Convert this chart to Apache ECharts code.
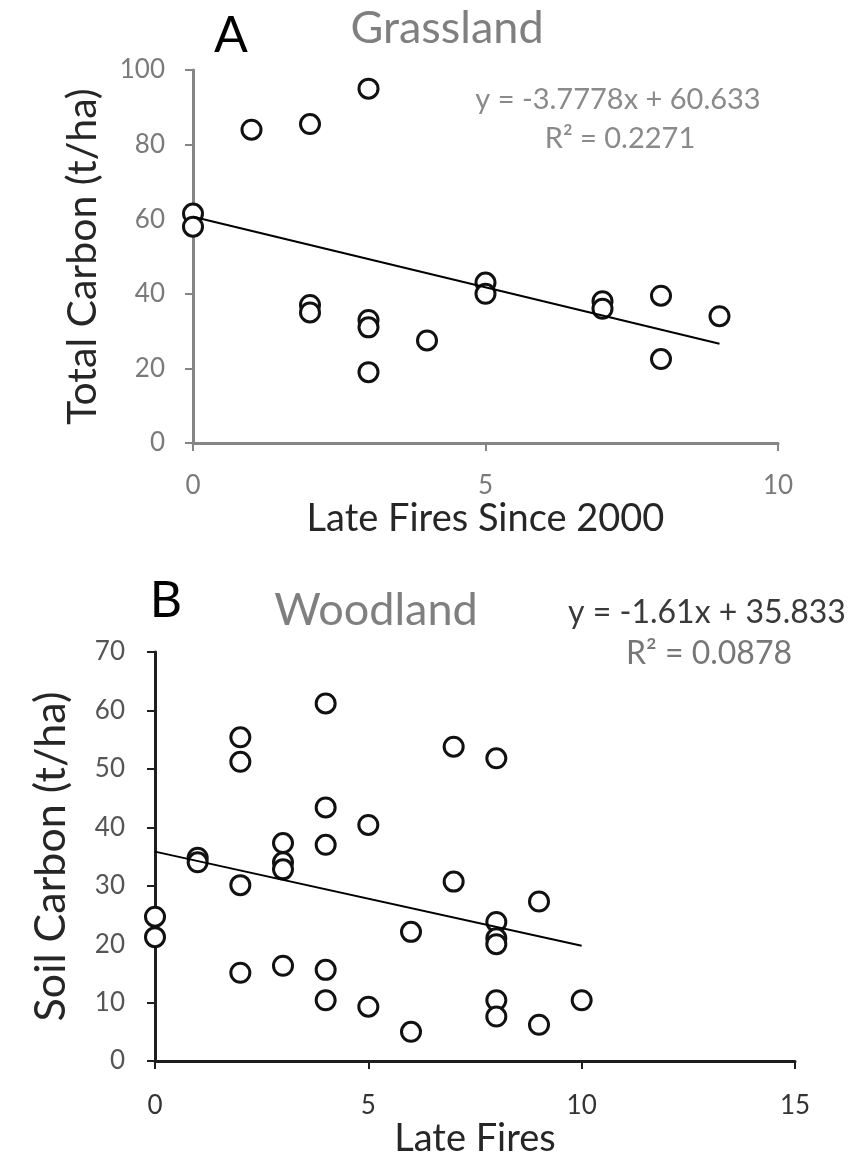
<!DOCTYPE html>
<html>
<head>
<meta charset="utf-8">
<script src="https://cdn.jsdelivr.net/npm/echarts@6/dist/echarts.min.js"></script>
<style>
  html, body { margin: 0; padding: 0; background: #fff; }
  #chart { width: 868px; height: 1157px; }
</style>
</head>
<body>
<div id="chart"></div>
<script>
// A - Grassland
var grassX = [0, 0, 1, 2, 2, 2, 3, 3, 3, 3, 4, 5, 5, 7, 7, 8, 8, 9];
var grassY = [61.5, 58, 84, 85.5, 37, 35, 95, 33, 31, 19, 27.5, 43, 40, 38, 36, 39.5, 22.5, 34];
var grassTrend = [[0, 60.633], [9, 26.633]];
var grassEq = ['y = -3.7778x + 60.633', 'R² = 0.2271'];

// B - Woodland
var woodX = [0, 0, 1, 1, 2, 2, 2, 2, 3, 3, 3, 3, 4, 4, 4, 4, 4, 5, 5, 6, 6, 7, 7, 8, 8, 8, 8, 8, 8, 9, 9, 10];
var woodY = [24.7, 21.2, 34.8, 34, 55.4, 51.2, 30.1, 15.1, 37.3, 34, 32.8, 16.3, 61.2, 43.4, 37, 15.6, 10.4, 40.4, 9.3, 22.1, 5, 53.8, 30.7, 51.8, 23.8, 21, 20, 10.4, 7.6, 27.3, 6.2, 10.4];
var woodTrend = [[0, 35.833], [10, 19.733]];
var woodEq = ['y = -1.61x + 35.833', 'R² = 0.0878'];

function pairs(xs, ys) {
    return xs.map(function (x, i) { return [x, ys[i]]; });
}

var font = 'Lato';
var myChart = echarts.init(document.getElementById('chart'));

function axisStyle(color) {
    return {
        axisLine: { show: true, onZero: false, lineStyle: { color: color, width: 3 } },
        axisTick: { show: true, inside: false, length: 8, lineStyle: { color: color, width: 2 } },
        splitLine: { show: false }
    };
}

var xA = Object.assign({
    type: 'value', gridIndex: 0, min: 0, max: 10, interval: 5,
    name: 'Late Fires Since 2000', nameLocation: 'middle', nameGap: 56,
    nameTextStyle: { fontFamily: font, fontSize: 38, color: '#262626' },
    axisLabel: { fontFamily: font, fontSize: 26, color: '#7a7a7a', margin: 30 }
}, axisStyle('#858585'));
var yA = Object.assign({
    type: 'value', gridIndex: 0, min: 0, max: 100, interval: 20,
    name: 'Total Carbon (t/ha)', nameLocation: 'middle', nameGap: 90,
    nameTextStyle: { fontFamily: font, fontSize: 41, color: '#262626' },
    axisLabel: { fontFamily: font, fontSize: 26, color: '#7a7a7a', margin: 28 }
}, axisStyle('#858585'));
var xB = Object.assign({
    type: 'value', gridIndex: 1, min: 0, max: 15, interval: 5,
    name: 'Late Fires', nameLocation: 'middle', nameGap: 56,
    nameTextStyle: { fontFamily: font, fontSize: 38, color: '#262626' },
    axisLabel: { fontFamily: font, fontSize: 26, color: '#333', margin: 32 }
}, axisStyle('#1e1e1e'));
var yB = Object.assign({
    type: 'value', gridIndex: 1, min: 0, max: 70, interval: 10,
    name: 'Soil Carbon (t/ha)', nameLocation: 'middle', nameGap: 82,
    nameTextStyle: { fontFamily: font, fontSize: 43, color: '#262626' },
    axisLabel: { fontFamily: font, fontSize: 26, color: '#555', margin: 30 }
}, axisStyle('#1e1e1e'));

var circle = {
    symbol: 'circle', symbolSize: 19,
    itemStyle: { color: '#fff', borderColor: '#111', borderWidth: 3, opacity: 1 }
};

function eqText(x, y, text, color, size) {
    return {
        type: 'text', x: x, y: y,
        style: { text: text, fontFamily: font, fontSize: size, fill: color, align: 'center', verticalAlign: 'middle' }
    };
}

myChart.setOption({
    backgroundColor: '#fff',
    animation: false,
    grid: [
        { left: 193, top: 70, width: 585, height: 373, outerBoundsMode: 'none' },
        { left: 155, top: 652, width: 640, height: 409, outerBoundsMode: 'none' }
    ],
    xAxis: [xA, xB],
    yAxis: [yA, yB],
    series: [
        Object.assign({ type: 'scatter', xAxisIndex: 0, yAxisIndex: 0, data: pairs(grassX, grassY), z: 3 }, circle),
        {
            type: 'line', xAxisIndex: 0, yAxisIndex: 0, data: grassTrend, symbol: 'none', z: 4,
            lineStyle: { color: '#000', width: 2 }
        },
        Object.assign({ type: 'scatter', xAxisIndex: 1, yAxisIndex: 1, data: pairs(woodX, woodY), z: 3 }, circle),
        {
            type: 'line', xAxisIndex: 1, yAxisIndex: 1, data: woodTrend, symbol: 'none', z: 4,
            lineStyle: { color: '#000', width: 2 }
        }
    ],
    graphic: [
        { type: 'text', x: 231, y: 36, style: { text: 'A', fontFamily: font, fontSize: 50, fill: '#000', align: 'center', verticalAlign: 'middle' } },
        { type: 'text', x: 447, y: 28, style: { text: 'Grassland', fontFamily: font, fontSize: 45, fill: '#7f7f7f', align: 'center', verticalAlign: 'middle' } },
        eqText(618, 100, grassEq[0], '#8a8a8a', 29),
        eqText(620, 139, grassEq[1], '#8a8a8a', 29),
        { type: 'text', x: 166, y: 601, style: { text: 'B', fontFamily: font, fontSize: 50, fill: '#000', align: 'center', verticalAlign: 'middle' } },
        { type: 'text', x: 376, y: 610, style: { text: 'Woodland', fontFamily: font, fontSize: 45, fill: '#7f7f7f', align: 'center', verticalAlign: 'middle' } },
        eqText(707, 613, woodEq[0], '#3a3a3a', 32),
        eqText(709, 654, woodEq[1], '#777', 32)
    ]
});
</script>
</body>
</html>
